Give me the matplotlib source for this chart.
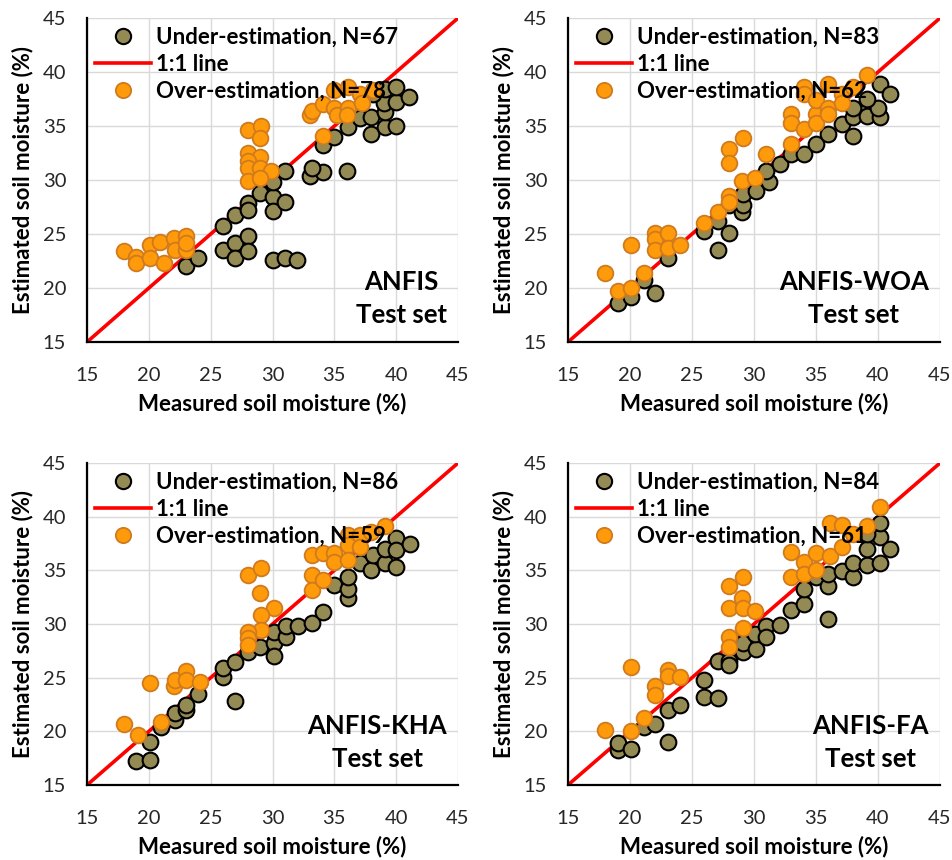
import matplotlib
matplotlib.use("Agg")
import matplotlib.pyplot as plt
from matplotlib.lines import Line2D

plt.rcParams['font.family'] = ['Lato', 'DejaVu Sans']

# ANFIS
anfis_under_x = [23, 24, 26, 27, 28, 28, 26, 27, 28, 27, 28, 29, 30, 30, 31, 30, 31,
                 30, 31, 32, 33, 34.1, 33.2, 36, 34.1, 35, 36.1, 37.1, 38, 38, 39.1,
                 40, 39.1, 39, 40, 41, 39.1, 40, 38.1]
anfis_under_y = [22.0, 22.8, 25.7, 26.8, 27.9, 27.2, 23.5, 24.2, 24.8, 22.8, 23.4, 28.8,
                 28.4, 27.1, 28.0, 29.8, 30.8, 22.6, 22.8, 22.6, 30.4, 30.7, 31.1, 30.8,
                 33.2, 34.0, 34.9, 35.7, 35.8, 34.3, 34.9, 35.0, 36.3, 37.1, 37.2, 37.7,
                 38.4, 38.6, 38.0]
anfis_over_x = [18, 19, 19, 20.1, 20.1, 20.9, 21.2, 22, 22.1, 23, 23, 23, 28, 29.1, 29,
                28, 29, 28, 28, 29, 29.9, 28, 29, 33, 33.2, 34.1, 34.1, 35, 35, 35.2,
                36.1, 36.1, 36, 37.1, 37.2, 38.1]
anfis_over_y = [23.4, 22.9, 22.3, 24.0, 22.8, 24.3, 22.3, 24.6, 23.5, 24.8, 23.5, 24.2,
                34.6, 35.0, 33.9, 32.5, 32.1, 31.8, 31.1, 31.1, 30.8, 29.9, 30.2, 36.0,
                36.4, 34.1, 37.0, 38.3, 36.7, 36.0, 38.6, 36.7, 36.0, 38.0, 37.1, 38.3]

# ANFIS-WOA
woa_under_x = [19, 20.1, 21.1, 22, 23.1, 26, 27.1, 28, 27.1, 28, 29, 29.1, 29.1, 30.2,
               31.2, 31, 32.1, 33, 34, 35, 36, 37.1, 38, 38, 39.1, 39.1, 40.2, 40, 40.2,
               41, 39.1, 38]
woa_under_y = [18.6, 19.2, 20.7, 19.5, 22.8, 25.3, 26.2, 25.1, 23.5, 27.7, 27.0, 27.7,
               28.7, 29.0, 29.8, 30.8, 31.5, 32.4, 32.4, 33.3, 34.3, 35.2, 34.1, 35.8,
               36.4, 35.9, 35.8, 36.7, 38.9, 38.0, 37.5, 36.7]
woa_over_x = [18, 19, 20.1, 20.1, 21.1, 22, 22, 22, 23.1, 23.1, 24, 26, 27.1, 28, 28,
              28, 28, 29.1, 29, 30.1, 31, 33, 33, 33, 34, 34, 34, 35, 35, 35, 36, 36,
              36, 37.1, 37.1, 38, 39.1]
woa_over_y = [21.4, 19.7, 20.0, 24.0, 21.4, 25.1, 24.5, 23.5, 25.1, 23.7, 24.0, 26.0,
              27.0, 28.5, 28.0, 32.9, 31.6, 33.9, 29.9, 30.2, 32.4, 33.3, 36.1, 35.3,
              34.7, 38.6, 38.0, 36.1, 35.3, 37.4, 38.9, 36.7, 36.1, 38.0, 37.1, 38.6,
              39.7]

# ANFIS-KHA
kha_under_x = [19, 20.1, 20.1, 21, 22.1, 22.1, 23, 23, 24, 26, 26, 27, 27, 28, 29, 30.1,
               30.1, 30.1, 31.1, 31.1, 32.1, 33.2, 34.1, 35, 36.1, 36.1, 36.1, 37.1, 38,
               38.1, 39.1, 39.1, 40, 40, 40, 41.1]
kha_under_y = [17.2, 17.3, 19.0, 20.4, 21.1, 21.7, 22.0, 22.5, 23.5, 25.1, 25.9, 26.5,
               22.8, 27.4, 27.9, 28.2, 27.0, 29.3, 28.8, 29.8, 29.8, 30.1, 31.1, 33.6,
               32.4, 33.3, 34.4, 35.7, 35.0, 36.4, 35.7, 37.0, 35.3, 38.0, 36.9, 37.5]
kha_over_x = [18, 19.1, 20.1, 21, 22, 22.1, 23, 23, 24.1, 28, 29.1, 29, 30.1, 29.1, 29.1,
              28, 28, 28, 33.2, 33.2, 33.2, 34.1, 34.1, 35, 35, 36.1, 36.1, 36.1, 37.1,
              37.1, 38, 39.1]
kha_over_y = [20.7, 19.7, 24.5, 20.9, 24.2, 24.8, 25.6, 24.8, 24.6, 34.6, 35.2, 32.9,
              31.5, 30.8, 29.4, 29.3, 28.7, 28.0, 36.4, 34.6, 33.2, 34.1, 36.6, 36.6,
              35.8, 38.3, 37.4, 36.0, 38.3, 37.2, 38.6, 39.1]

# ANFIS-FA
fa_under_x = [19, 19, 20.1, 21.1, 22, 23.1, 23.1, 24, 26, 26, 27.1, 27.1, 28, 28, 29.1,
              29.1, 30.2, 30.1, 31, 31, 32.1, 33, 34, 34, 35, 36, 36, 36, 37.1, 38, 38,
              39.1, 39.1, 40.2, 40.2, 40.2, 41, 39.1]
fa_under_y = [18.3, 18.9, 18.4, 20.4, 20.7, 22.0, 19.0, 22.5, 24.8, 23.2, 23.1, 26.6,
              26.6, 26.2, 27.4, 28.2, 27.7, 29.1, 29.8, 28.8, 29.9, 31.3, 31.9, 33.3,
              34.4, 30.5, 33.5, 34.7, 34.9, 34.4, 35.7, 35.5, 37.0, 35.7, 38.1, 39.4,
              37.0, 38.4]
fa_over_x = [18, 20.1, 20.1, 21.1, 22, 22, 23.1, 23.1, 24, 28, 29.1, 29, 28, 29.1, 30.1,
             29.1, 28, 28, 33, 33, 34, 34, 35, 35, 36.1, 36.1, 37.1, 37.1, 38, 39.1,
             40.2]
fa_over_y = [20.1, 26.0, 20.0, 21.2, 24.2, 23.4, 25.7, 25.2, 25.1, 33.5, 34.4, 32.4,
             31.5, 31.5, 31.2, 29.6, 28.8, 27.9, 34.4, 36.7, 35.8, 34.7, 35.0, 36.6,
             39.4, 36.3, 39.2, 37.2, 38.4, 39.1, 40.9]

model_names = ['ANFIS', 'ANFIS-WOA', 'ANFIS-KHA', 'ANFIS-FA']
n_under = [67, 83, 86, 84]
n_over = [78, 62, 59, 61]
ticks = [15, 20, 25, 30, 35, 40, 45]

panels = [
    (anfis_under_x, anfis_under_y, anfis_over_x, anfis_over_y),
    (woa_under_x, woa_under_y, woa_over_x, woa_over_y),
    (kha_under_x, kha_under_y, kha_over_x, kha_over_y),
    (fa_under_x, fa_under_y, fa_over_x, fa_over_y),
]

UNDER_COLOR = '#948A54'
OVER_COLOR = '#FF9A0A'
OVER_EDGE = '#D07A1E'

fig = plt.figure(figsize=(9.52, 8.6), dpi=100)
rects = [
    [0.0914, 0.6023, 0.3897, 0.3767],
    [0.5966, 0.6023, 0.3908, 0.3767],
    [0.0914, 0.0872, 0.3897, 0.3744],
    [0.5966, 0.0872, 0.3908, 0.3744],
]

for i, (ux, uy, ox, oy) in enumerate(panels):
    ax = fig.add_axes(rects[i])
    ax.plot([15, 45], [15, 45], color='#FF0000', lw=2.6, zorder=2, solid_capstyle='butt')
    ax.scatter(ux, uy, s=128, c=UNDER_COLOR, edgecolors='black', linewidths=1.5, zorder=3)
    ax.scatter(ox, oy, s=128, c=OVER_COLOR, edgecolors=OVER_EDGE, linewidths=1.3, zorder=4)

    ax.set_xlim(15, 45)
    ax.set_ylim(15, 45)
    ax.set_xticks(ticks)
    ax.set_yticks(ticks)
    ax.grid(True, color='#D9D9D9', lw=1.0, zorder=0)
    ax.set_axisbelow(True)
    for side in ['top', 'right']:
        ax.spines[side].set_visible(False)
    for side in ['left', 'bottom']:
        ax.spines[side].set_linewidth(1.6)
        ax.spines[side].set_color('black')
        ax.spines[side].set_zorder(5)
    ax.tick_params(length=0, labelsize=14.5, labelcolor='#262626')
    ax.tick_params(axis='x', pad=18)
    ax.tick_params(axis='y', pad=15)

    ax.set_xlabel('Measured soil moisture (%)', fontsize=16, fontweight='bold', labelpad=6)
    ax.set_ylabel('Estimated soil moisture (%)', fontsize=16, fontweight='bold', labelpad=7)

    handles = [
        Line2D([], [], ls='none', marker='o', ms=11, mfc=UNDER_COLOR, mec='black', mew=1.5),
        Line2D([], [], color='#FF0000', lw=2.6),
        Line2D([], [], ls='none', marker='o', ms=11, mfc=OVER_COLOR, mec=OVER_EDGE, mew=1.3),
    ]
    labels = ['Under-estimation, N=%d' % n_under[i], '1:1 line',
              'Over-estimation, N=%d' % n_over[i]]
    leg = ax.legend(handles, labels, loc='upper left', frameon=False,
                    prop={'size': 16, 'weight': 'bold'}, handlelength=2.5,
                    handletextpad=0.22, labelspacing=0.28, borderaxespad=0.1,
                    borderpad=0.28)
    leg.set_zorder(6)

    ax.text(0.97, 0.045, model_names[i] + '\nTest set', transform=ax.transAxes,
            ha='right', va='bottom', ma='center', fontsize=18.5, fontweight='bold',
            linespacing=1.45, zorder=6)

fig.savefig('out.png', dpi=100)
